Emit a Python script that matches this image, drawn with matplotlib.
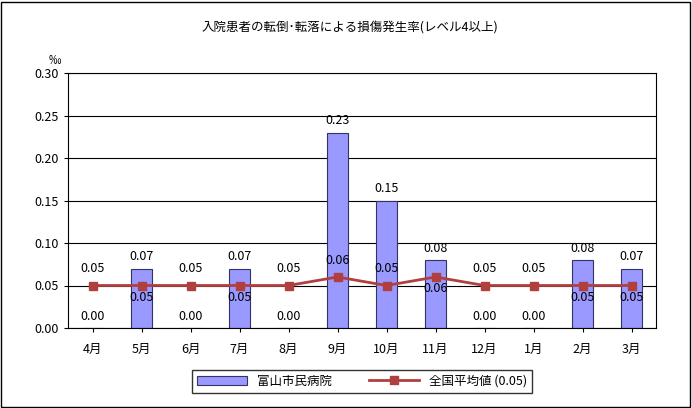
import numpy as np
import matplotlib.pyplot as plt

plt.rcParams['font.family'] = 'Noto Sans CJK JP'
plt.rcParams['font.size'] = 9

months = ['4月', '5月', '6月', '7月', '8月', '9月', '10月', '11月', '12月', '1月', '2月', '3月']
hospital = [0.00, 0.07, 0.00, 0.07, 0.00, 0.23, 0.15, 0.08, 0.00, 0.00, 0.08, 0.07]
national = [0.05, 0.05, 0.05, 0.05, 0.05, 0.06, 0.05, 0.06, 0.05, 0.05, 0.05, 0.05]

fig = plt.figure(figsize=(6.92, 4.08), dpi=100)
ax = fig.add_axes([68/692, 1-328/408, 588/692, 255/408])
fig.patches.append(plt.Rectangle((0.002, 0.003), 0.995, 0.993, transform=fig.transFigure,
                                 fill=False, edgecolor='black', linewidth=1))

x = np.arange(len(months))
bars = ax.bar(x, hospital, width=0.42, color='#9999FF', edgecolor='#333366', linewidth=0.8,
              label='富山市民病院', zorder=2)
line, = ax.plot(x, national, color='#B04040', linewidth=2, marker='s', markersize=6,
                label='全国平均値 (0.05)', zorder=3)

for i, (h, n) in enumerate(zip(hospital, national)):
    ax.text(i, h + 0.006, f'{h:.2f}', ha='center', va='bottom', zorder=4)
    if 0 < h - n < 0.05:
        ax.text(i, n - 0.006, f'{n:.2f}', ha='center', va='top', zorder=4)
    else:
        ax.text(i, n + 0.012, f'{n:.2f}', ha='center', va='bottom', zorder=4)

ax.set_xlim(-0.5, len(months) - 0.5)
ax.set_ylim(0, 0.30)
ax.set_yticks(np.arange(0, 0.31, 0.05))
ax.set_yticklabels([f'{v:.2f}' for v in np.arange(0, 0.31, 0.05)])
ax.set_xticks(x)
ax.set_xticklabels(months)
ax.tick_params(axis='x', pad=8)
ax.yaxis.grid(True, color='black', linewidth=0.8, zorder=0)
ax.set_axisbelow(True)
ax.tick_params(length=3)
for s in ax.spines.values():
    s.set_color('black')

fig.text(350/692, 1-27/408, '入院患者の転倒･転落による損傷発生率(レベル4以上)', ha='center', va='center', fontsize=9)
fig.text(55/692, 1-60/408, '‰', ha='center', va='center')

fig.legend([bars, line], ['富山市民病院', '全国平均値 (0.05)'], loc='center',
           bbox_to_anchor=(362/692, 1-381/408), ncol=2, frameon=True,
           fancybox=False, edgecolor='black', handlelength=4, columnspacing=3,
           borderpad=0.4)

fig.savefig('out.png', dpi=100)
